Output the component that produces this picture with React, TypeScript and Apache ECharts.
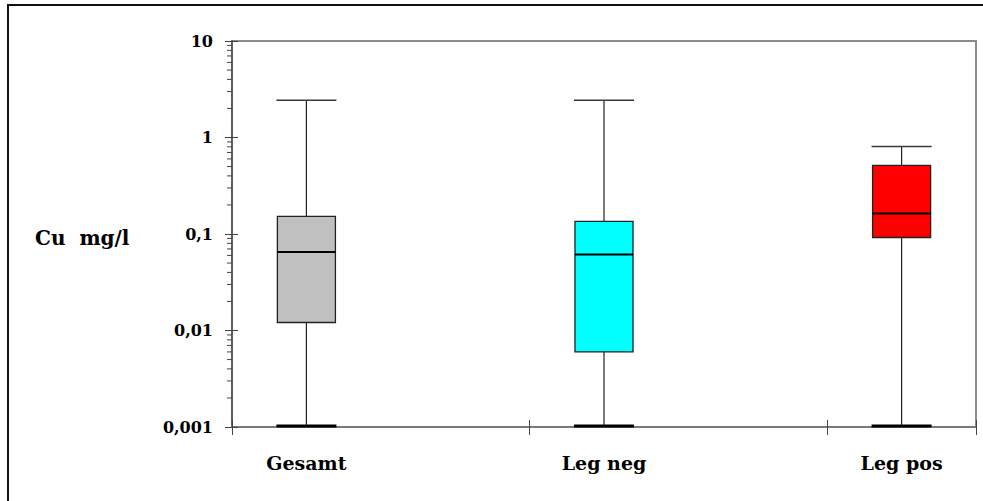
import React, { useEffect, useRef } from 'react';
import * as echarts from 'echarts';

// Copper concentration summary per group (mg/l)
const categories = ['Gesamt', 'Leg neg', 'Leg pos'];
const whiskerLow = [0.001, 0.001, 0.001];
const quartile1 = [0.0121, 0.006, 0.092];
const medians = [0.065, 0.0614, 0.163];
const quartile3 = [0.152, 0.135, 0.515];
const whiskerHigh = [2.43, 2.43, 0.805];
const boxColors = ['#C0C0C0', '#00FFFF', '#FF0000'];

// Log axis decades and their labels
const yTicks = [0.001, 0.01, 0.1, 1, 10];
const yTickLabels = ['0,001', '0,01', '0,1', '1', '10'];
const minorMultipliers = [2, 3, 4, 5, 6, 7, 8, 9];

const yAxisTitle = 'Cu  mg/l';

const FONT = 'DejaVu Serif';
const X_MIN = 0;
const X_MAX = 2.5;
const BOX_OFFSET = 0.25;
const BOX_WIDTH = 0.195;

export default function App() {
  const ref = useRef<HTMLDivElement>(null);

  useEffect(() => {
    if (!ref.current) return;
    const chart = echarts.init(ref.current, null, { renderer: 'svg' });

    const boxData = categories.map((_, i) => [
      i + BOX_OFFSET,
      whiskerLow[i],
      quartile1[i],
      medians[i],
      quartile3[i],
      whiskerHigh[i],
      i,
    ]);

    const minorData: number[][] = [];
    yTicks.slice(0, -1).forEach((d) => {
      minorMultipliers.forEach((m) => minorData.push([X_MIN, d * m]));
    });

    const labelFor = (v: number) => {
      const idx = yTicks.findIndex((t) => Math.abs(Math.log10(t) - Math.log10(v)) < 1e-6);
      return idx >= 0 ? yTickLabels[idx] : '';
    };

    const baseY = {
      type: 'log' as const,
      logBase: 10,
      min: yTicks[0],
      max: yTicks[yTicks.length - 1],
      splitLine: { show: false },
    };

    chart.setOption({
      animation: false,
      backgroundColor: '#ffffff',
      grid: {
        left: 232,
        top: 41,
        right: 7,
        bottom: 74,
        show: true,
        borderColor: '#8c8c8c',
        borderWidth: 2,
        backgroundColor: 'transparent',
      },
      graphic: [
        {
          type: 'rect',
          shape: { x: 8, y: 5, width: 1200, height: 800 },
          style: { fill: 'none', stroke: '#111', lineWidth: 2 },
          silent: true,
        },
        {
          type: 'text',
          x: 35,
          y: 238,
          style: {
            text: yAxisTitle,
            font: `bold 20px "${FONT}"`,
            fill: '#000',
            verticalAlign: 'middle',
            align: 'left',
          },
        },
      ],
      xAxis: [
        {
          type: 'value',
          min: X_MIN,
          max: X_MAX,
          interval: 1,
          axisLine: { lineStyle: { color: '#7a7a7a', width: 2 } },
          axisTick: { show: true, inside: false, length: 8, lineStyle: { color: '#444', width: 1 } },
          axisLabel: { show: false },
          splitLine: { show: false },
        },
        {
          type: 'value',
          position: 'bottom',
          min: X_MIN,
          max: X_MAX,
          interval: 1,
          axisLine: { show: false },
          axisTick: { show: true, inside: true, length: 7, lineStyle: { color: '#444', width: 1 } },
          axisLabel: { show: false },
          splitLine: { show: false },
        },
      ],
      yAxis: [
        {
          ...baseY,
          axisLine: { show: true, lineStyle: { color: '#606060', width: 2 } },
          axisTick: { show: true, inside: false, length: 7, lineStyle: { color: '#444', width: 1 } },
          axisLabel: {
            show: true,
            margin: 19,
            formatter: (v: number) => labelFor(v),
            fontFamily: FONT,
            fontWeight: 'bold',
            fontSize: 16,
            color: '#000',
          },
        },
        {
          ...baseY,
          position: 'left',
          axisLine: { show: false },
          axisTick: { show: true, inside: true, length: 6, lineStyle: { color: '#444', width: 1 } },
          axisLabel: { show: false },
        },
      ],
      series: [
        {
          type: 'custom',
          name: 'minorTicks',
          xAxisIndex: 0,
          yAxisIndex: 0,
          silent: true,
          clip: false,
          data: minorData,
          renderItem: (params: any, api: any) => {
            const p = api.coord([api.value(0), api.value(1)]);
            return {
              type: 'line',
              shape: { x1: p[0] - 5, y1: p[1], x2: p[0], y2: p[1] },
              style: { stroke: '#444', lineWidth: 1 },
            };
          },
        },
        {
          type: 'custom',
          name: 'boxes',
          xAxisIndex: 0,
          yAxisIndex: 0,
          silent: true,
          clip: false,
          data: boxData,
          renderItem: (params: any, api: any) => {
            const x = api.value(0);
            const idx = api.value(6);
            const left = api.coord([x - BOX_WIDTH / 2, api.value(3)])[0];
            const right = api.coord([x + BOX_WIDTH / 2, api.value(3)])[0];
            const cx = api.coord([x, api.value(3)])[0];
            const yLow = api.coord([x, api.value(1)])[1];
            const yQ1 = api.coord([x, api.value(2)])[1];
            const yMed = api.coord([x, api.value(3)])[1];
            const yQ3 = api.coord([x, api.value(4)])[1];
            const yHigh = api.coord([x, api.value(5)])[1];
            return {
              type: 'group',
              children: [
                {
                  type: 'line',
                  shape: { x1: cx, y1: yHigh, x2: cx, y2: yQ3 },
                  style: { stroke: '#222', lineWidth: 1.2 },
                },
                {
                  type: 'line',
                  shape: { x1: cx, y1: yQ1, x2: cx, y2: yLow },
                  style: { stroke: '#222', lineWidth: 1.2 },
                },
                {
                  type: 'line',
                  shape: { x1: left - 1, y1: yHigh, x2: right + 1, y2: yHigh },
                  style: { stroke: '#3a3a3a', lineWidth: 1.5 },
                },
                {
                  type: 'line',
                  shape: { x1: left - 1, y1: yLow - 1, x2: right + 1, y2: yLow - 1 },
                  style: { stroke: '#000', lineWidth: 3 },
                },
                {
                  type: 'rect',
                  shape: { x: left, y: yQ3, width: right - left, height: yQ1 - yQ3 },
                  style: { fill: boxColors[idx], stroke: '#222', lineWidth: 1.3 },
                },
                {
                  type: 'line',
                  shape: { x1: left, y1: yMed, x2: right, y2: yMed },
                  style: { stroke: '#000', lineWidth: 2 },
                },
                {
                  type: 'text',
                  style: {
                    text: categories[idx],
                    x: cx,
                    y: yLow + 36,
                    align: 'center',
                    verticalAlign: 'middle',
                    font: `bold 19px "${FONT}"`,
                    fill: '#000',
                  },
                },
              ],
            };
          },
        },
      ],
    });

    return () => chart.dispose();
  }, []);

  return (
    <div
      ref={ref}
      style={{ position: 'fixed', left: 0, top: 0, width: 983, height: 501, background: '#fff' }}
    />
  );
}
